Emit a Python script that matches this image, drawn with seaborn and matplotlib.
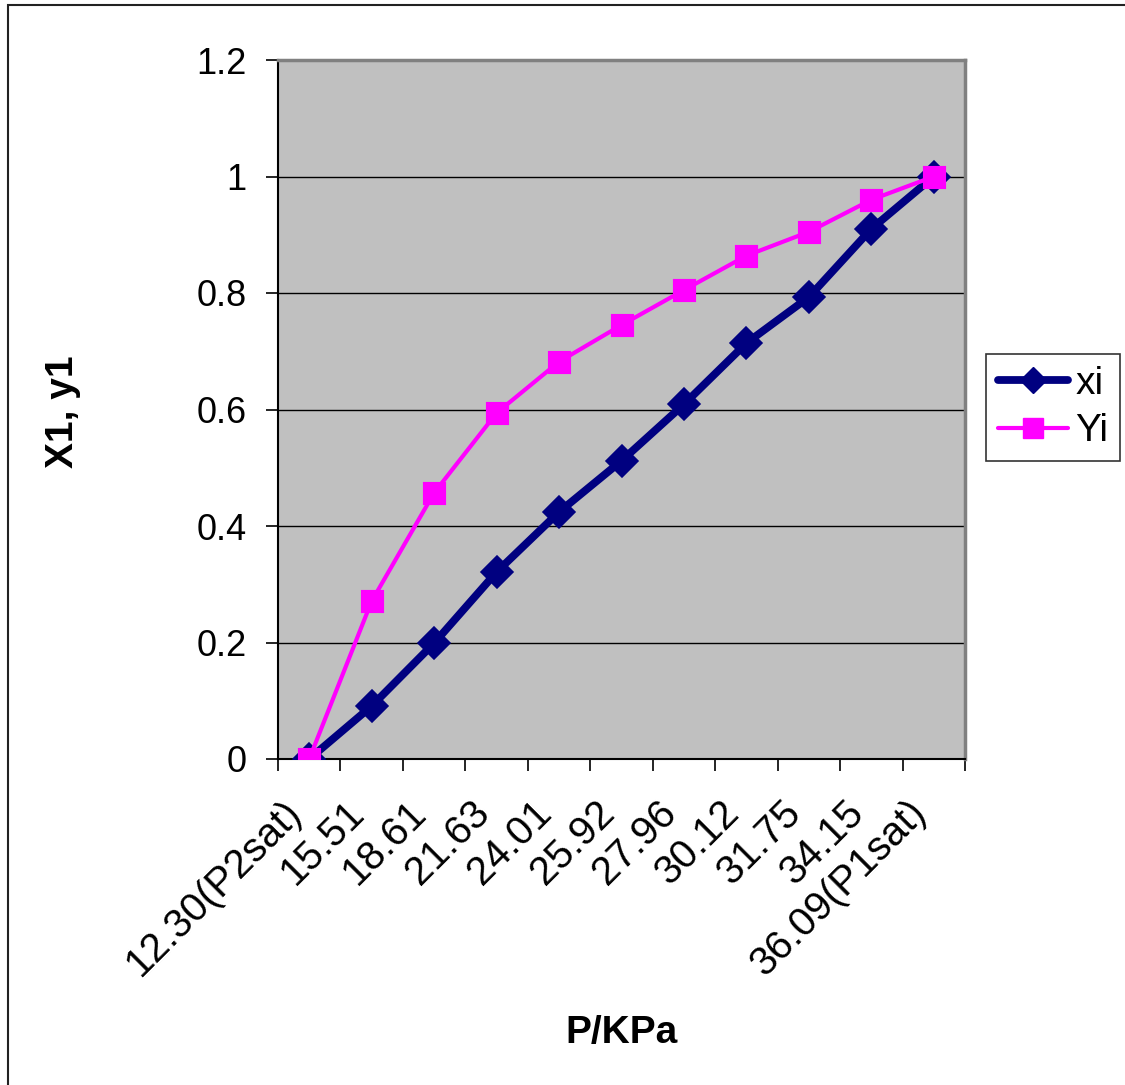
import matplotlib
matplotlib.use("Agg")
import matplotlib.pyplot as plt
import seaborn as sns
import pandas as pd
from matplotlib.patches import Rectangle
from matplotlib.lines import Line2D

categories = ["12.30(P2sat)", "15.51", "18.61", "21.63", "24.01", "25.92",
              "27.96", "30.12", "31.75", "34.15", "36.09(P1sat)"]
xi = [0.0, 0.091, 0.199, 0.321, 0.424, 0.512, 0.609, 0.714, 0.793, 0.910, 1.0]
yi = [0.0, 0.271, 0.457, 0.594, 0.682, 0.745, 0.805, 0.864, 0.905, 0.960, 1.0]
y_ticks = [0, 0.2, 0.4, 0.6, 0.8, 1.0, 1.2]
y_tick_labels = ["0", "0.2", "0.4", "0.6", "0.8", "1", "1.2"]

sns.set_style("white")
plt.rcParams["font.family"] = ["Liberation Sans", "DejaVu Sans"]
plt.rcParams["text.color"] = "black"
plt.rcParams["xtick.color"] = "black"
plt.rcParams["ytick.color"] = "black"
plt.rcParams["axes.labelcolor"] = "black"

W, H = 1125, 1085
fig = plt.figure(figsize=(W / 100, H / 100), dpi=100)
ax = fig.add_axes([278 / W, 1 - 759 / H, (965 - 278) / W, (759 - 60) / H])
ax.set_facecolor("#C0C0C0")

df_x = pd.DataFrame({"P": categories, "v": xi})
df_y = pd.DataFrame({"P": categories, "v": yi})

navy = "#000080"
mag = "#FF00FF"
sns.pointplot(data=df_x, x="P", y="v", order=categories, color=navy, marker="D",
              markersize=13, linewidth=5.6, errorbar=None, ax=ax,
              markeredgecolor=navy, zorder=3)
sns.pointplot(data=df_y, x="P", y="v", order=categories, color=mag, marker="s",
              markersize=15, linewidth=3.0, errorbar=None, ax=ax,
              markeredgecolor=mag, zorder=4)

ax.set_xlim(-0.5, len(categories) - 0.5)
ax.set_ylim(0, 1.2)

ax.set_yticks(y_ticks)
ax.set_yticklabels(y_tick_labels, fontsize=26)
ax.yaxis.grid(True, color="black", linewidth=1.0)
ax.xaxis.grid(False)
ax.set_axisbelow(True)

ax.set_xticks(range(len(categories)))
ax.set_xticklabels(categories, fontsize=29, rotation=45, ha="right",
                   va="bottom", rotation_mode="anchor")
ax.set_xticks([i - 0.5 for i in range(len(categories) + 1)], minor=True)
ax.tick_params(axis="x", which="major", length=0, pad=44)
ax.tick_params(axis="x", which="minor", length=8.6, width=1.2, color="black",
               direction="out", bottom=True)
ax.tick_params(axis="y", which="major", length=8.6, width=1.2, color="black",
               direction="out", left=True, pad=14)

for s in ["left", "bottom"]:
    ax.spines[s].set_color("black")
    ax.spines[s].set_linewidth(1.5)
for s in ["top", "right"]:
    ax.spines[s].set_visible(True)
    ax.spines[s].set_color("#808080")
    ax.spines[s].set_linewidth(2.5)

ax.set_xlabel("")
ax.set_ylabel("")
fig.text(63 / W, 1 - 412 / H, "X1, y1", fontsize=28, fontweight="bold",
         rotation=90, ha="center", va="center")
fig.text(621 / W, 1 - 1033 / H, "P/KPa", fontsize=28, fontweight="bold",
         ha="center", va="center")

handles = [
    Line2D([], [], color=navy, lw=5.6, marker="D", markersize=13,
           markeredgecolor=navy, solid_capstyle="round"),
    Line2D([], [], color=mag, lw=3.0, marker="s", markersize=15,
           markeredgecolor=mag, solid_capstyle="round"),
]
leg = ax.legend(handles, ["xi", "Yi"], loc="upper left",
                bbox_to_anchor=(986 / W, 1 - 354 / H), bbox_transform=fig.transFigure,
                frameon=True, fancybox=False, edgecolor="black", fontsize=28,
                handlelength=1.8, handletextpad=0.2, labelspacing=0.3,
                borderpad=0.3, borderaxespad=0)
leg.get_frame().set_linewidth(1.2)

fig.patches.append(Rectangle((8 / W, -0.02), 1.1, 1 - 5 / H + 0.02,
                             transform=fig.transFigure, fill=False,
                             edgecolor="#222222", linewidth=1.5))

fig.savefig("out.png", dpi=100, facecolor="white")
